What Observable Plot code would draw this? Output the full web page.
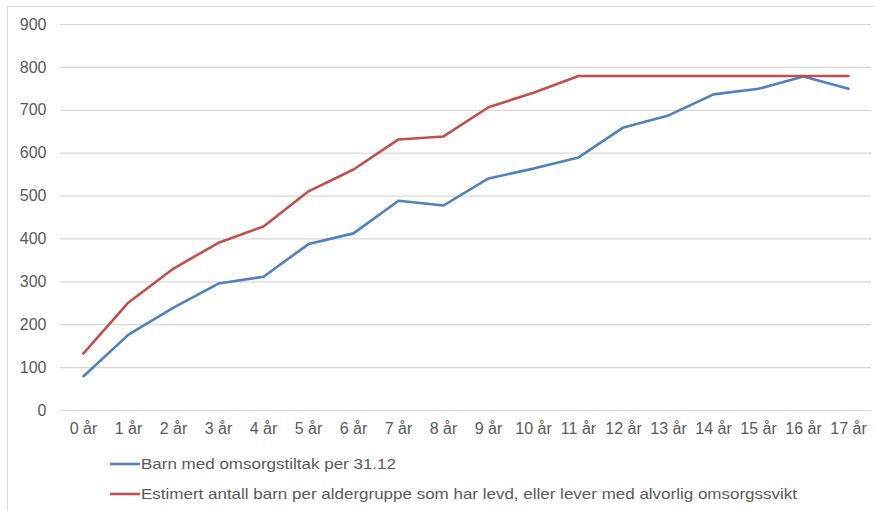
<!DOCTYPE html>
<html>
<head>
<meta charset="utf-8">
<script src="https://cdn.jsdelivr.net/npm/d3@7"></script>
<script src="https://cdn.jsdelivr.net/npm/@observablehq/plot@0.6"></script>
<style>
  html, body { margin: 0; padding: 0; background: #fff; overflow: hidden; }
  #frame { position: absolute; left: 7px; top: 6px; width: 900px; height: 520px; border: 1.5px solid #d9d9d9; box-sizing: border-box; }
  #chart { position: absolute; left: 0; top: 0; }
  #legend { position: absolute; left: 0; top: 445px; }
  text { font-family: "Liberation Sans", Arial, sans-serif; }
</style>
</head>
<body>
<div id="frame"></div>
<div id="chart"></div>
<div id="legend"></div>
<script>
const ages = ["0 år","1 år","2 år","3 år","4 år","5 år","6 år","7 år","8 år","9 år","10 år","11 år","12 år","13 år","14 år","15 år","16 år","17 år"];
const seriesNames = ["Barn med omsorgstiltak per 31.12", "Estimert antall barn per aldergruppe som har levd, eller lever med alvorlig omsorgssvikt"];
const seriesColors = ["#4F81BD", "#C0504D"];
const barnMedTiltak = [80, 177, 240, 296, 312, 388, 413, 489, 478, 541, 564, 590, 660, 688, 737, 750, 779, 750];
const estimert = [133, 252, 331, 391, 429, 511, 562, 632, 639, 707, 741, 780, 780, 780, 780, 780, 780, 780];
const yTicks = [0, 100, 200, 300, 400, 500, 600, 700, 800, 900];

const data = [];
[barnMedTiltak, estimert].forEach((vals, si) => {
  vals.forEach((v, i) => data.push({age: ages[i], value: v, series: seriesNames[si]}));
});

const chart = Plot.plot({
  width: 875,
  height: 445,
  marginLeft: 60,
  marginRight: 4,
  marginTop: 24,
  marginBottom: 35,
  style: {fontFamily: '"Liberation Sans", Arial, sans-serif', fontSize: "16px", color: "#595959", background: "transparent"},
  x: {type: "point", domain: ages, padding: 0.5, label: null},
  y: {domain: [0, 900], label: null},
  color: {domain: seriesNames, range: seriesColors},
  marks: [
    Plot.gridY(yTicks, {stroke: "#d9d9d9", strokeOpacity: 1, strokeWidth: 1.2}),
    Plot.axisY(yTicks, {tickSize: 0, tickPadding: 14, label: null, fill: "#595959"}),
    Plot.axisX({tickSize: 0, tickPadding: 12, label: null, fill: "#595959"}),
    Plot.line(data, {x: "age", y: "value", z: "series", stroke: "series", strokeWidth: 2.6, curve: "linear"})
  ]
});
document.getElementById("chart").appendChild(chart);

// Legend
const lw = 875, lh = 66;
const leg = d3.create("svg").attr("width", lw).attr("height", lh);
const textLens = [255, 656];
seriesNames.forEach((name, i) => {
  const y = 19 + i * 30;
  leg.append("line").attr("x1", 110).attr("x2", 140).attr("y1", y).attr("y2", y)
    .attr("stroke", seriesColors[i]).attr("stroke-width", 2.6);
  leg.append("text").attr("x", 141).attr("y", y).attr("dy", "0.35em")
    .attr("font-size", 15).attr("fill", "#595959")
    .attr("textLength", textLens[i]).attr("lengthAdjust", "spacingAndGlyphs")
    .text(name);
});
document.getElementById("legend").appendChild(leg.node());
</script>
</body>
</html>
